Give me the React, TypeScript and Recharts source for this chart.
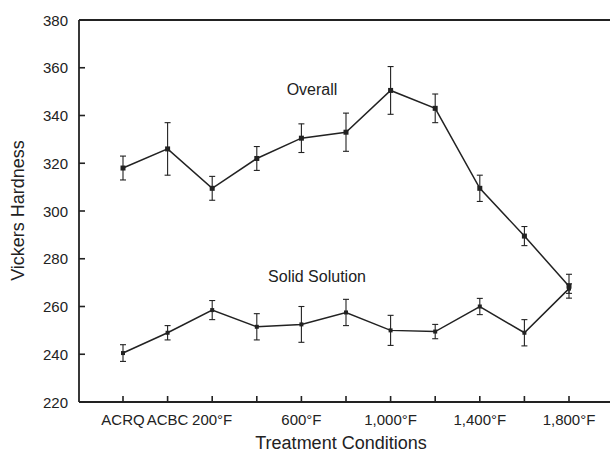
import React from 'react';
import { LineChart, Line, XAxis, YAxis, ErrorBar, ReferenceLine } from 'recharts';

const categories = ['ACRQ', 'ACBC', '200°F', '400°F', '600°F', '800°F', '1,000°F', '1,200°F', '1,400°F', '1,600°F', '1,800°F'];
const shownLabels = ['ACRQ', 'ACBC', '200°F', '600°F', '1,000°F', '1,400°F', '1,800°F'];
const overall = [318, 326, 309.5, 322, 330.5, 333, 350.5, 343, 309.5, 289.5, 268.5];
const overallErr = [5, 11, 5, 5, 6, 8, 10, 6, 5.5, 4, 5];
const solid = [240.5, 249, 258.5, 251.5, 252.5, 257.5, 250, 249.5, 260, 249, 267.5];
const solidErr = [3.5, 3, 4, 5.5, 7.5, 5.5, 6.3, 3, 3.4, 5.5, 2];
const yTicks = [220, 240, 260, 280, 300, 320, 340, 360, 380];

const data = categories.map((c, i) => ({
  cond: c,
  overall: overall[i],
  overallErr: overallErr[i],
  solid: solid[i],
  solidErr: solidErr[i],
}));

const FONT = '"Liberation Sans", Arial, Helvetica, sans-serif';
const INK = '#222';

const squareDot = (size: number) => (props: any) => {
  const { cx, cy, index } = props;
  if (cx == null || cy == null) return <g key={`d-${index}`} />;
  return (
    <rect key={`d-${index}`} x={cx - size / 2} y={cy - size / 2} width={size} height={size} fill={INK} />
  );
};

const XTick = (props: any) => {
  const { x, y, payload } = props;
  const label = shownLabels.includes(payload.value) ? payload.value : '';
  return (
    <g>
      <rect x={x - 0.8} y={y - 6} width={1.6} height={6} fill={INK} />
      <text x={x} y={y + 23} textAnchor="middle" fontSize={15} fontFamily={FONT} fill={INK}>{label}</text>
    </g>
  );
};

const YTick = (props: any) => {
  const { x, y, payload } = props;
  return (
    <g>
      <rect x={x} y={y - 0.8} width={6} height={1.6} fill={INK} />
      <text x={x - 11} y={y + 5.5} textAnchor="end" fontSize={15} fontFamily={FONT} fill={INK}>{payload.value}</text>
    </g>
  );
};

export default function App() {
  return (
    <div style={{ position: 'absolute', left: 0, top: 0, width: 610, height: 456, overflow: 'hidden', background: '#fff' }}>
      <LineChart width={613} height={456} data={data} margin={{ top: 20, right: 0, bottom: 0, left: 0 }}>
        <XAxis
          dataKey="cond"
          padding={{ left: 44, right: 44 }}
          height={54}
          tickSize={0}
          tickMargin={0}
          interval={0}
          tick={XTick}
          tickLine={false}
          axisLine={{ stroke: INK, strokeWidth: 1.8 }}
        />
        <YAxis
          domain={[220, 380]}
          ticks={yTicks}
          width={79}
          tickSize={0}
          tickMargin={0}
          interval={0}
          tick={YTick}
          tickLine={false}
          axisLine={{ stroke: INK, strokeWidth: 1.8 }}
        />
        <ReferenceLine y={380} stroke={INK} strokeWidth={1.8} />
        <Line
          dataKey="overall"
          stroke={INK}
          strokeWidth={1.5}
          dot={squareDot(5)}
          activeDot={false}
          isAnimationActive={false}
        >
          <ErrorBar dataKey="overallErr" width={3} stroke={INK} strokeWidth={1.1} direction="y" isAnimationActive={false} />
        </Line>
        <Line
          dataKey="solid"
          stroke={INK}
          strokeWidth={1.5}
          dot={squareDot(4)}
          activeDot={false}
          isAnimationActive={false}
        >
          <ErrorBar dataKey="solidErr" width={3} stroke={INK} strokeWidth={1.1} direction="y" isAnimationActive={false} />
        </Line>
      </LineChart>
      <svg width={610} height={456} style={{ position: 'absolute', left: 0, top: 0, pointerEvents: 'none' }}>
        <text x={312} y={95} textAnchor="middle" fontSize={16} fontFamily={FONT} fill={INK}>Overall</text>
        <text x={317} y={282} textAnchor="middle" fontSize={16} fontFamily={FONT} fill={INK}>Solid Solution</text>
        <text x={341} y={449} textAnchor="middle" fontSize={18} fontFamily={FONT} fill={INK}>Treatment Conditions</text>
        <text x={24} y={210.5} textAnchor="middle" fontSize={18} fontFamily={FONT} fill={INK} transform="rotate(-90 24 210.5)">Vickers Hardness</text>
      </svg>
    </div>
  );
}
